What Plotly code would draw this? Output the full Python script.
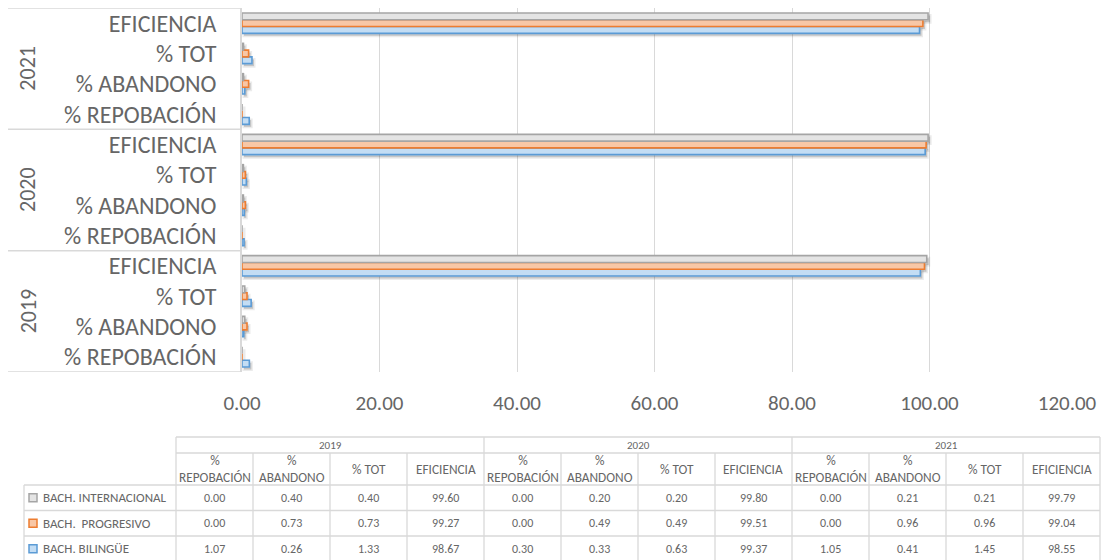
import plotly.graph_objects as go

W, H = 1107, 560

# ---- data -------------------------------------------------------------
years = ["2019", "2020", "2021"]
metrics = ["% REPOBACIÓN", "% ABANDONO", "% TOT", "EFICIENCIA"]
header_labels = ["%<br>REPOBACIÓN", "%<br>ABANDONO", "% TOT", "EFICIENCIA"]
series_names = ["BACH. INTERNACIONAL", "BACH.  PROGRESIVO", "BACH. BILINGÜE"]

# values listed year by year, metric by metric (2019 ... 2021)
internacional = [0.00, 0.40, 0.40, 99.60, 0.00, 0.20, 0.20, 99.80, 0.00, 0.21, 0.21, 99.79]
progresivo = [0.00, 0.73, 0.73, 99.27, 0.00, 0.49, 0.49, 99.51, 0.00, 0.96, 0.96, 99.04]
bilingue = [1.07, 0.26, 1.33, 98.67, 0.30, 0.33, 0.63, 99.37, 1.05, 0.41, 1.45, 98.55]

x_ticks = [0, 20, 40, 60, 80, 100, 120]

# ---- style ------------------------------------------------------------
FONT = "Carlito, Calibri, Lato, sans-serif"
TEXT = "#666666"
GRID = "#d9d9d9"
fills = {"BACH. INTERNACIONAL": "#e4e4e4", "BACH.  PROGRESIVO": "#f8c7a6", "BACH. BILINGÜE": "#c3ddf4"}
lines = {"BACH. INTERNACIONAL": "#a5a5a5", "BACH.  PROGRESIVO": "#ed7d31", "BACH. BILINGÜE": "#5b9bd5"}
values = {"BACH. INTERNACIONAL": internacional, "BACH.  PROGRESIVO": progresivo, "BACH. BILINGÜE": bilingue}

PLOT_L, PLOT_R, PLOT_T, PLOT_B = 242, 1067, 8, 372
X_MAX = 120
SHADOW_DX, SHADOW_DY = 2.0, 2.5   # drop-shadow offset in pixels


def fx(px):
    return px / W


def fy(py):
    return 1 - py / H


keys = [f"{y} {m}" for y in years for m in metrics]
n = len(metrics)

fig = go.Figure()
# drop shadows live on (x, y); the bars themselves on the overlaid (x2, y2)
for name in reversed(series_names):
    fig.add_trace(go.Bar(
        y=keys, x=values[name], orientation="h", name=name, xaxis="x", yaxis="y",
        marker=dict(color="rgba(60,60,60,0.22)", line=dict(color="rgba(60,60,60,0.10)", width=3)),
        showlegend=False, hoverinfo="skip",
    ))
# bottom-to-top inside each group: bilingüe, progresivo, internacional
for name in reversed(series_names):
    fig.add_trace(go.Bar(
        y=keys, x=values[name], orientation="h", name=name, xaxis="x2", yaxis="y2",
        marker=dict(color=fills[name], line=dict(color=lines[name], width=1.6)),
        showlegend=False, hoverinfo="x+name",
    ))

shapes = []
annotations = []


def note(text, x, y, size=12, xanchor="center", yanchor="middle", **kw):
    annotations.append(dict(text=text, xref=kw.pop("xref", "paper"), yref=kw.pop("yref", "paper"),
                            x=x, y=y, xanchor=xanchor, yanchor=yanchor, showarrow=False,
                            font=dict(family=FONT, size=size, color=TEXT), **kw))


# group dividers of the two-level category axis
for g in range(len(years) + 1):
    yv = g * n - 0.5
    shapes.append(dict(type="line", xref="paper", yref="y2", x0=fx(8), x1=fx(PLOT_L),
                       y0=yv, y1=yv, line=dict(color=GRID, width=1.5)))
for g, yr in enumerate(years):
    note(yr, fx(28), g * n + (n - 1) / 2, size=22, yref="y2", textangle=-90)

# ---- data table under the chart ---------------------------------------
COL_L, COL_W = 176, 77
LEG_L = 24
R_TOP, R_YEAR, R_HEAD = 437, 453, 485
ROW_H = 25.5
rows_y = [R_HEAD + i * ROW_H for i in range(len(series_names) + 1)]
ncols = len(years) * n
COL_R = COL_L + ncols * COL_W
tline = dict(color=GRID, width=1.3)


def hline(py, x0, x1):
    shapes.append(dict(type="line", xref="paper", yref="paper", x0=fx(x0), x1=fx(x1),
                       y0=fy(py), y1=fy(py), line=tline))


def vline(px, y0, y1):
    shapes.append(dict(type="line", xref="paper", yref="paper", x0=fx(px), x1=fx(px),
                       y0=fy(y0), y1=fy(y1), line=tline))


hline(R_TOP, COL_L, COL_R)
hline(R_YEAR, COL_L, COL_R)
for ry in rows_y:
    hline(ry, LEG_L, COL_R)
for g in range(len(years) + 1):
    vline(COL_L + g * n * COL_W, R_TOP, R_YEAR)
for c in range(ncols + 1):
    vline(COL_L + c * COL_W, R_YEAR, rows_y[-1])
vline(LEG_L, R_HEAD, rows_y[-1])

for g, yr in enumerate(years):
    note(yr, fx(COL_L + (g * n + n / 2) * COL_W), fy((R_TOP + R_YEAR) / 2), size=11)
    for m, lab in enumerate(header_labels):
        note(lab, fx(COL_L + (g * n + m + 0.5) * COL_W), fy((R_YEAR + R_HEAD) / 2), size=13.3)

for r, name in enumerate(series_names):
    cy = (rows_y[r] + rows_y[r + 1]) / 2
    shapes.append(dict(type="rect", xref="paper", yref="paper",
                       x0=fx(29), x1=fx(37), y0=fy(cy - 4), y1=fy(cy + 4),
                       fillcolor=fills[name], line=dict(color=lines[name], width=1.5)))
    note(name, fx(40.5), fy(cy), size=13, xanchor="left")
    for c, v in enumerate(values[name]):
        note(f"{v:.2f}", fx(COL_L + (c + 0.5) * COL_W), fy(cy))

# axis geometry
x_per_px = X_MAX / (PLOT_R - PLOT_L)
y_per_px = len(keys) / (PLOT_B - PLOT_T)
x_dom = [fx(PLOT_L), fx(PLOT_R)]
y_dom = [fy(PLOT_B), fy(PLOT_T)]
cat_common = dict(type="category", categoryorder="array", categoryarray=keys,
                  showgrid=False, zeroline=False, ticks="", automargin=False)

fig.update_layout(
    width=W, height=H, autosize=False,
    margin=dict(l=0, r=0, t=0, b=0, pad=0),
    paper_bgcolor="white", plot_bgcolor="white",
    showlegend=False,
    barmode="group", bargap=0.33, bargroupgap=0,
    shapes=shapes, annotations=annotations,
    xaxis=dict(domain=x_dom, range=[-SHADOW_DX * x_per_px, X_MAX - SHADOW_DX * x_per_px],
               showgrid=False, zeroline=False, showticklabels=False, ticks="",
               automargin=False),
    yaxis=dict(domain=y_dom, range=[-0.5 + SHADOW_DY * y_per_px, len(keys) - 0.5 + SHADOW_DY * y_per_px],
               showticklabels=False, showline=False, **cat_common),
    xaxis2=dict(overlaying="x", side="bottom", anchor="y2", range=[0, X_MAX], tickvals=x_ticks,
                ticktext=[f"{t:.2f}" for t in x_ticks], showgrid=True, gridcolor=GRID,
                gridwidth=1.3, zeroline=False, showline=False, ticks="",
                automargin=False, ticklabelstandoff=16,
                tickfont=dict(family=FONT, size=21, color=TEXT)),
    yaxis2=dict(overlaying="y", side="left", anchor="x2", range=[-0.5, len(keys) - 0.5],
                tickvals=keys, ticktext=[m for y in years for m in metrics],
                showline=True, linecolor=GRID, linewidth=1.5, ticklabelstandoff=19,
                tickfont=dict(family=FONT, size=24, color=TEXT), **cat_common),
)

fig.write_html("out.html")
